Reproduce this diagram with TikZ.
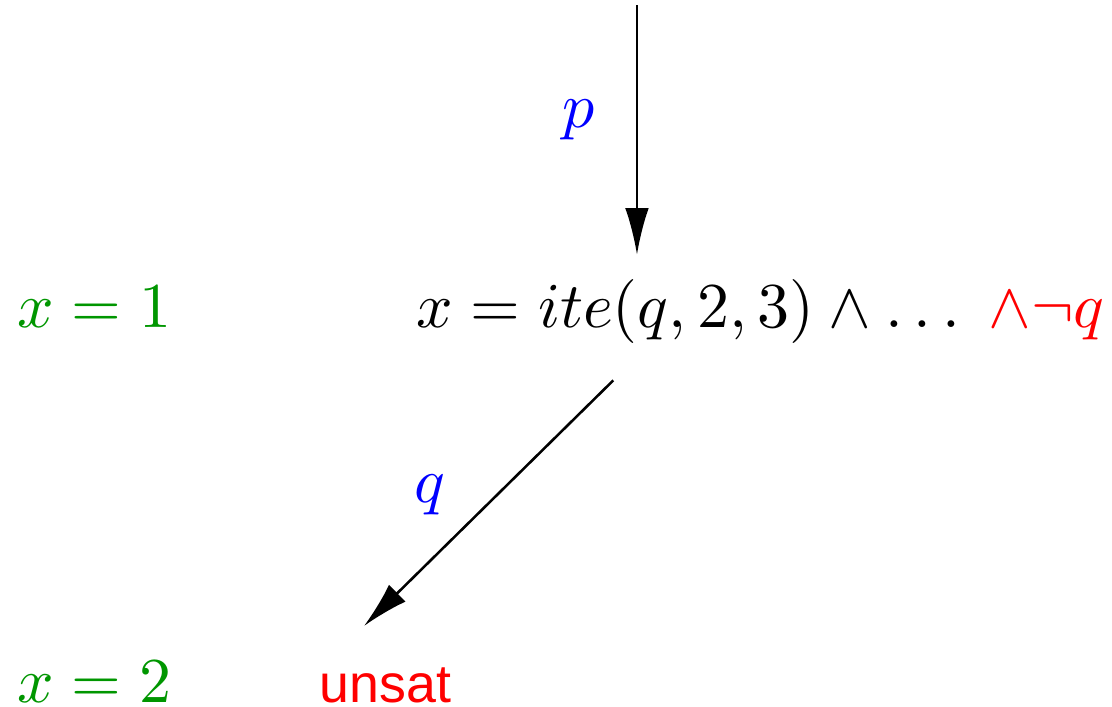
\documentclass[tikz,border=0pt]{standalone}
\usepackage{amsmath}
\usepackage{fontspec}
\setsansfont{Liberation Sans}
\usepackage{tikz}
\usetikzlibrary{arrows.meta}
\definecolor{valgreen}{RGB}{0,150,0}

\begin{document}
\begin{tikzpicture}[>={Latex[length=7.3pt,width=3.7pt]},
  lbl/.style={inner sep=0pt, anchor=base west},
  var/.style={text=blue}]
\useasboundingbox (0,0) rectangle (6.11,3.88);
\coordinate (in) at (3.50,3.85);
\coordinate (inend) at (3.50,2.48);
\coordinate (out) at (3.37,1.79);
\coordinate (outend) at (2.00,0.44);
\node[lbl] (ite) at (2.28,2.08) {$x = ite(q,2,3) \wedge \ldots\; \textcolor{red}{\wedge\neg q}$};
\node[lbl, text=valgreen] (x1) at (0.09,2.08) {$x = 1$};
\node[lbl, text=valgreen] (x2) at (0.09,0.02) {$x = 2$};
\node[lbl, text=red, font=\sffamily\fontsize{8.4}{10}\selectfont] (unsat) at (1.75,0.02) {unsat};
\node[var] (p) at (3.18,3.22) {$p$};
\node[var] (q) at (2.36,1.16) {$q$};
\draw[->] (in) -- (inend);
\draw[->] (out) -- (outend);
\end{tikzpicture}
\end{document}
